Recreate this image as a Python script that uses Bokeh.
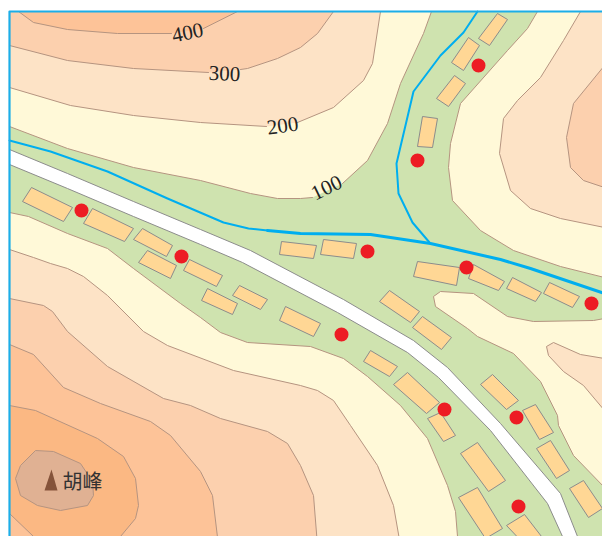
from bokeh.plotting import figure
from bokeh.models import Range1d
from bokeh.embed import file_html
from bokeh.resources import INLINE
from bokeh.core.properties import value

# map coordinates
# contours are split where a height label interrupts them
C200_A = [(9,87),(70,105),(133,115),(200,122),(266,126)]
C200_B = [(297,122),(333,107),(363,80),(372,63),(380,11)]
C300_A = [(9,45),(67,60),(133,68),(208,72)]
C300_B = [(240,69),(247,68),(277,58),(300,47),(317,33),(333,11)]
C400_A = [(18,11),(33,22),(67,29),(117,33),(171,33)]
C400_B = [(203,28),(237,11)]
CORNER = [(9,11)]

C100_A = [(9,126),(67,148),(133,167),(200,180),(250,193),(277,198),(300,198),(312,197)]
C100_B = [(342,183),(367,160),(387,123),(400,83),(423,33),(431,11)]
GREEN_REST = [(537,11),(527,28),(507,50),(460,103),(450,143),(448,167),(452,200),(480,230),(513,250),(560,266),(604,277),
         (604,318),(593,320),(533,321),(507,316),(473,293),(440,291),(433,296),(435,306),(467,328),(477,336),(513,353),(540,381),(557,415),(558,425),(573,455),(604,487),
         (604,545),(457,545),(457,536),(455,511),(447,485),(427,438),(400,405),(367,376),(343,358),(310,346),(247,342),(220,332),(200,317),(180,303),(133,268),(107,248),(67,233),(28,216),(9,212)]

R_PEACH = [(580,11),(563,40),(540,77),(517,100),(503,118),(499,153),(510,190),(530,208),(560,218),(604,227),(604,11)]
R_PEACH2 = [(604,65),(573,103),(566,137),(570,167),(583,180),(604,187)]
R_PATCH = [(604,358),(580,354),(553,342),(546,346),(548,355),(563,371),(583,385),(604,410)]

LL_1 = [(9,249),(33,257),(50,263),(67,268),(83,276),(107,295),(143,331),(167,345),(233,370),(300,385),(317,390),(333,400),(350,425),(377,465),(393,505),(400,545),(9,545)]
LL_2 = [(9,298),(43,305),(52,311),(67,331),(107,366),(163,398),(190,405),(220,418),(267,431),(287,443),(300,465),(313,495),(317,545),(9,545)]
LL_3 = [(9,344),(33,354),(63,387),(100,403),(150,421),(170,435),(200,471),(212,495),(218,545),(9,545)]
LL_4 = [(9,405),(35,410),(97,438),(123,456),(135,478),(138,505),(135,518),(120,536),(115,545),(40,545),(33,536),(9,513)]
SUMMIT = [(35,450),(53,451),(80,463),(92,481),(93,495),(87,505),(60,510),(37,505),(20,495),(15,478),(20,465)]
PEAK = [(51,469),(44,490),(57,490)]

ROAD_TOP = [(9,149),(67,173),(133,201),(200,229),(250,250),(343,299),(413,340),(447,367),(500,423),(560,493),(577,536),(580,545)]
ROAD_BOT = [(9,164),(67,188),(133,216),(200,244),(242,262),(337,312),(407,352),(438,377),(490,430),(547,503),(562,536),(566,545)]

RIVER_THIN = [(9,140),(50,151),(107,171),(167,198),(223,222),(248,228),(267,230)]
RIVER_THICK = [(267,230),(300,233),(370,234),(430,243),(500,259),(530,268),(604,293)]
RIVER_BRANCH = [(477,11),(463,32),(440,55),(413,91),(396,163),(398,193),(412,222),(429,242)]

HOUSES = [
    [(31,187),(72,207),(63,221),(22,201)],
    [(92,208),(133,228),(124,241),(83,223)],
    [(142,228),(172,245),(166,256),(133,239)],
    [(147,250),(176,265),(170,278),(138,262)],
    [(189,259),(222,275),(216,286),(183,270)],
    [(207,288),(237,303),(232,314),(201,300)],
    [(239,285),(267,299),(260,309),(232,295)],
    [(285,306),(320,323),(313,336),(279,320)],
    [(497,13),(507,19),(489,45),(478,38)],
    [(468,37),(479,45),(463,70),(451,62)],
    [(454,75),(465,83),(448,106),(436,98)],
    [(422,116),(437,118),(432,147),(417,146)],
    [(323,239),(356,243),(353,258),(320,254)],
    [(281,241),(316,245),(313,258),(279,254)],
    [(417,261),(459,267),(456,285),(413,276)],
    [(473,264),(504,281),(498,290),(468,278)],
    [(512,277),(541,292),(535,301),(506,288)],
    [(549,282),(579,296),(572,307),(543,293)],
    [(389,290),(419,311),(410,322),(379,301)],
    [(422,316),(451,337),(441,349),(412,327)],
    [(370,350),(397,366),(389,376),(363,361)],
    [(407,372),(439,402),(426,413),(393,384)],
    [(440,412),(455,435),(443,441),(427,418)],
    [(492,374),(518,400),(506,409),(480,384)],
    [(535,404),(553,432),(539,439),(522,410)],
    [(550,440),(569,470),(556,478),(536,448)],
    [(583,480),(602,508),(588,517),(569,488)],
    [(477,442),(505,480),(488,491),(460,453)],
    [(477,487),(502,528),(485,538),(458,497)],
    [(524,514),(548,545),(525,545),(506,525)],
]

DOT_X = [81,181,341,367,417,478,466,591,444,516,518]
DOT_Y = [210,256,334,251,160,65,267,303,409,417,506]

LABELS = ["400","300","200","100"]
LABEL_X = [187,224,282,326]
LABEL_Y = [32,73,125,187]
LABEL_ANGLE = [0.2,-0.04,0.14,0.45]

YELLOW, PEACH1, PEACH2, PEACH3, PEACH4 = "#FFF9D8", "#FDE3C6", "#FCD0AE", "#FDC398", "#FBB883"
GREEN_C, ROAD_EDGE, CONTOUR, RIVER, HOUSE, RED = "#CFE3AF", "#8C8C8C", "#B59480", "#00AEEF", "#FFD795", "#ED1C24"

p = figure(width=602, height=536, x_range=Range1d(0,602), y_range=Range1d(536,0),
           x_axis_type=None, y_axis_type=None, output_backend="svg", toolbar_location=None,
           min_border=0, outline_line_color=None, background_fill_color="white")
p.grid.visible = False

def poly(pts, fill, line=CONTOUR, lw=1.0):
    xs, ys = zip(*pts)
    p.patch(list(xs), list(ys), fill_color=fill, line_color=line, line_width=lw)

def path(pts, color, lw):
    xs, ys = zip(*pts)
    p.line(list(xs), list(ys), line_color=color, line_width=lw, line_join="round", line_cap="round")

p.quad(left=9, right=604, top=11, bottom=545, fill_color=YELLOW, line_color=None)
poly(C200_A + C200_B + CORNER, PEACH1, None)
poly(C300_A + C300_B + CORNER, PEACH2, None)
poly(C400_A + C400_B, PEACH3, None)
poly(R_PEACH, PEACH1)
poly(R_PEACH2, PEACH2)
poly(LL_1, PEACH1)
poly(LL_2, PEACH2)
poly(LL_3, PEACH3)
poly(LL_4, PEACH4)
poly(SUMMIT, "#E0B193")
poly(C100_A + C100_B + GREEN_REST, GREEN_C, None)
poly(R_PATCH, PEACH1)
for seg in (C200_A, C200_B, C300_A, C300_B, C400_A, C400_B, C100_A, C100_B, GREEN_REST):
    path(seg, CONTOUR, 1.0)
poly(ROAD_TOP + ROAD_BOT[::-1], "white", ROAD_EDGE, 1.0)
path(RIVER_THIN, RIVER, 2.0)
path(RIVER_BRANCH, RIVER, 2.0)
path(RIVER_THICK, RIVER, 3.0)
for h in HOUSES:
    poly(h, HOUSE, ROAD_EDGE, 1.0)
p.scatter(DOT_X, DOT_Y, size=14, marker="circle", fill_color=RED, line_color=None)
poly(PEAK, "#85533A", None)
p.text(x=LABEL_X, y=LABEL_Y, text=LABELS, angle=LABEL_ANGLE, text_font=value("Liberation Serif"),
       text_font_size="21px", text_color="#222222", text_align="center", text_baseline="middle")
p.text(x=[62], y=[480], text=["胡峰"], text_font=value("Noto Sans CJK SC"), text_font_size="20px",
       text_color="#333333", text_align="left", text_baseline="middle")
path([(9,545),(9,11),(604,11)], "#1CAEE8", 2.2)

open("out.html", "w").write(file_html(p, INLINE))
